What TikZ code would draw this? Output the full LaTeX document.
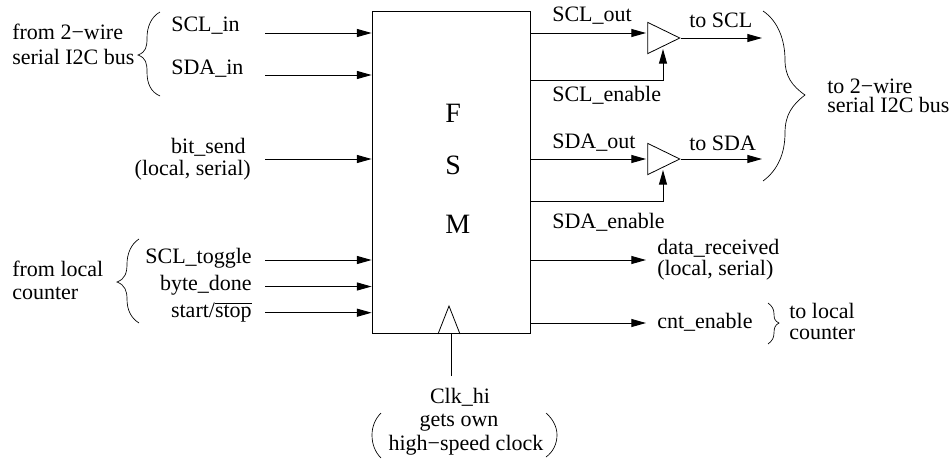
\documentclass[tikz,border=0pt]{standalone}
\usepackage{fontspec}
\setmainfont{Liberation Serif}
\usetikzlibrary{arrows.meta,shapes.geometric}
\tikzset{
    label/.style =  {inner sep=0pt,
                    text=black,
                    font=\fontsize{16.5}{18}\selectfont},
    letter/.style = {inner sep=0pt,
                    anchor=west,
                    text=black,
                    font=\fontsize{21}{24}\selectfont},
    fsm/.style =    {rectangle,
                    draw=black,
                    fill=white,
                    line width=0.6pt,
                    inner sep=0pt,
                    minimum width=118.5pt,
                    minimum height=242pt},
    buf/.style =    {isosceles triangle,
                    isosceles triangle apex angle=52,
                    draw=black,
                    line width=0.6pt,
                    inner sep=0pt,
                    minimum height=24pt},
    sig/.style =    {line width=0.7pt,
                    -{Triangle[length=11pt,width=6pt]}},
    wire/.style =   {line width=0.6pt},
    curly/.style =  {line width=0.5pt},
    x=0.75pt,
    y=-0.75pt}
\begin{document}
\begin{tikzpicture}
    \useasboundingbox (0,0) rectangle (952,458);
    \node[fsm] (FSM) at (451,172.5) {};
    \node[buf] (bufscl) at (657.5,38) {};
    \node[buf] (bufsda) at (657.5,159) {};

    % block letters
    \node[letter] (letF) at (445,113) {F};
    \node[letter] (letS) at (445,165.5) {S};
    \node[letter] (letM) at (445,224.5) {M};

    % inputs
    \coordinate (inscl) at (265,33);
    \coordinate (insda) at (265,75);
    \coordinate (inbit) at (265,159);
    \coordinate (intog) at (265,260);
    \coordinate (inbyte) at (265,286.5);
    \coordinate (instart) at (265,312.7);
    \path [sig] (inscl) edge (inscl -| FSM.west)
                (insda) edge (insda -| FSM.west)
                (inbit) edge (inbit -| FSM.west)
                (intog) edge (intog -| FSM.west)
                (inbyte) edge (inbyte -| FSM.west)
                (instart) edge (instart -| FSM.west);
    \node[label,anchor=west] (lblsclin) at (171,26) {SCL\_in};
    \node[label,anchor=west] (lblsdain) at (171,69) {SDA\_in};
    \node[label,anchor=east] (lblbit) at (246,147) {bit\_send};
    \node[label,anchor=east] (lblbitb) at (251,170) {(local, serial)};
    \node[label,anchor=east] (lbltog) at (252,258) {SCL\_toggle};
    \node[label,anchor=east] (lblbyte) at (252,285) {byte\_done};
    \node[label,anchor=east] (lblstart) at (252,312) {start/$\overline{\mbox{stop}}$};

    % left side groups
    \node[label,anchor=west] (lblfroma) at (12,32) {from 2−wire};
    \node[label,anchor=west] (lblfromb) at (12,57) {serial I2C bus};
    \node[label,anchor=west] (lblfromc) at (12,269) {from local};
    \node[label,anchor=west] (lblfromd) at (12,293) {counter};
    \draw[curly] (160,12) .. controls (151,17) and (147,27) .. (147,38)
        .. controls (147,47) and (146,52) .. (138,55)
        .. controls (146,58) and (147,63) .. (147,72)
        .. controls (147,84) and (151,92) .. (160,96);
    \draw[curly] (139,239) .. controls (131,244) and (127,254) .. (127,264)
        .. controls (127,273) and (125,279) .. (117,282)
        .. controls (125,285) and (127,291) .. (127,299)
        .. controls (127,310) and (131,318) .. (139,323);

    % clock
    \coordinate (clkl) at (438,334);
    \coordinate (clkt) at (449,306);
    \coordinate (clkr) at (460,334);
    \coordinate (clkin) at (451,376);
    \draw[wire] (clkl) -- (clkt) -- (clkr);
    \draw[wire] (clkin) -- (clkin |- FSM.south);
    \node[label] (lblclk) at (460,397) {Clk\_hi};
    \node[label] (lblown) at (459,423) {gets own};
    \node[label] (lblhigh) at (466,445) {high−speed clock};
    \draw[curly] (381,413) .. controls (375,419) and (372,427) .. (372,435)
        .. controls (372,444) and (375,452) .. (381,458);
    \draw[curly] (546,413) .. controls (553,419) and (557,427) .. (557,435)
        .. controls (557,444) and (553,452) .. (546,457);

    % outputs to the bus
    \coordinate (outscl) at (646,33);
    \coordinate (ensclup) at (663,49);
    \coordinate (enscl) at (663,80);
    \coordinate (tscl) at (762,38);
    \coordinate (outsda) at (646,159);
    \coordinate (ensdaup) at (663,170);
    \coordinate (ensda) at (663,201.7);
    \coordinate (tsda) at (762,159);
    \path [sig] (outscl -| FSM.east) edge (outscl)
                (bufscl.apex) edge (tscl)
                (outsda -| FSM.east) edge (outsda)
                (bufsda.apex) edge (tsda);
    \draw[sig] (enscl -| FSM.east) -- (enscl) -- (ensclup);
    \draw[sig] (ensda -| FSM.east) -- (ensda) -- (ensdaup);
    \node[label,anchor=west] (lblsclout) at (552,16) {SCL\_out};
    \node[label,anchor=west] (lbltoscl) at (689,20) {to SCL};
    \node[label,anchor=west] (lblsclen) at (552,95) {SCL\_enable};
    \node[label,anchor=west] (lblsdaout) at (552,143) {SDA\_out};
    \node[label,anchor=west] (lbltosda) at (689,143) {to SDA};
    \node[label,anchor=west] (lblsdaen) at (552,222) {SDA\_enable};
    \draw[curly] (763,11) .. controls (778,21) and (785,40) .. (785,60)
        .. controls (785,76) and (792,86) .. (805,95)
        .. controls (792,105) and (785,115) .. (785,133)
        .. controls (785,153) and (778,170) .. (763,181);
    \node[label,anchor=west] (lblbusa) at (827,86) {to 2−wire};
    \node[label,anchor=west] (lblbusb) at (827,105) {serial I2C bus};

    % local outputs
    \coordinate (outdata) at (646,260);
    \coordinate (outcnt) at (646,323);
    \path [sig] (outdata -| FSM.east) edge (outdata)
                (outcnt -| FSM.east) edge (outcnt);
    \node[label,anchor=west] (lbldata) at (657,248) {data\_received};
    \node[label,anchor=west] (lbldatab) at (657,270) {(local, serial)};
    \node[label,anchor=west] (lblcnt) at (657,322) {cnt\_enable};
    \draw[curly] (768,303) .. controls (772,306) and (774,309) .. (774,314)
        .. controls (774,319) and (775,321) .. (779,323)
        .. controls (775,325) and (774,328) .. (774,333)
        .. controls (774,338) and (772,341) .. (768,344);
    \node[label,anchor=west] (lbllocal) at (789,311) {to local};
    \node[label,anchor=west] (lblcount) at (789,333) {counter};
\end{tikzpicture}
\end{document}
